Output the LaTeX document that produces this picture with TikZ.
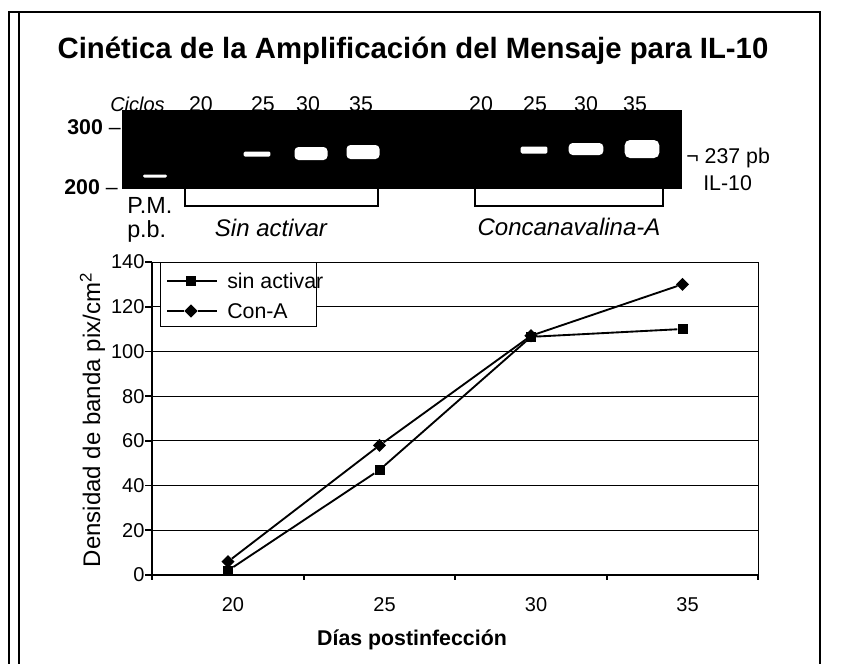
\documentclass[tikz,border=0pt]{standalone}
\usepackage{fontspec}
\setmainfont{Liberation Sans}
\usetikzlibrary{shapes.geometric}

\begin{document}
\begin{tikzpicture}[x=0.75pt,y=-0.75pt]
\tikzset{
	frame line/.style = {line width = 2pt},
	gel band/.style = {fill = white, rounded corners = 1pt, inner sep = 0},
	lane label/.style = {font = \fontsize{16}{18}\selectfont, anchor = base, inner sep = 0},
	side label/.style = {font = \fontsize{16}{18}\selectfont, inner sep = 0},
	group label/.style = {font = \fontsize{18}{20}\selectfont\itshape, anchor = base, inner sep = 0},
	bracket/.style = {line width = 1.6pt},
	grid line/.style = {line width = 0.6pt},
	axis line/.style = {line width = 1.3pt},
	tick label/.style = {font = \fontsize{15}{17}\selectfont, inner sep = 0},
	legend text/.style = {font = \fontsize{16}{18}\selectfont, anchor = west, inner sep = 0},
	series/.style = {line width = 1.4pt},
	square mark/.style = {rectangle, fill = black, minimum size = 7.5pt, inner sep = 0},
	diamond mark/.style = {diamond, fill = black, minimum size = 10pt, inner sep = 0}
}
\useasboundingbox (0,0) rectangle (846,664);
% frame
\draw[frame line] (8,12) -- (821,12);
\draw[frame line] (9,12) -- (9,664);
\draw[line width = 1.3pt] (19,12) -- (19,664);
\draw[frame line] (820,12) -- (820,664);
\node[anchor = base] (title) at (413,58) {\fontsize{22}{24}\selectfont\bfseries Cinética de la Amplificación del Mensaje para IL-10};

% gel
\node[fill = black, minimum width = 420pt, minimum height = 59.25pt, inner sep = 0] (gel) at (402,149.5) {};
\node[gel band, minimum width = 18pt, minimum height = 2.25pt] (pm) at (155,176) {};
\node[gel band, minimum width = 20pt, minimum height = 3.75pt] (sa25) at (257,154) {};
\node[gel band, rounded corners = 3pt, minimum width = 24.75pt, minimum height = 9.75pt] (sa30) at (311,153.5) {};
\node[gel band, rounded corners = 3pt, minimum width = 24.75pt, minimum height = 10.5pt] (sa35) at (363,152) {};
\node[gel band, minimum width = 20pt, minimum height = 5.25pt] (ca25) at (534,150) {};
\node[gel band, rounded corners = 3pt, minimum width = 26pt, minimum height = 9pt] (ca30) at (586,149) {};
\node[gel band, rounded corners = 4pt, minimum width = 26pt, minimum height = 13.5pt] (ca35) at (642,149) {};

\node[lane label, anchor = base west, font = \fontsize{15}{17}\selectfont\itshape] (ciclos) at (110,111) {Ciclos};
\foreach \c/\x in {20/201, 25/263, 30/308, 35/361}
	\node[lane label] (sa lane \c) at (\x,111) {\c};
\foreach \c/\x in {20/481, 25/535, 30/586, 35/635}
	\node[lane label] (ca lane \c) at (\x,111) {\c};

\node[side label, anchor = east, font = \fontsize{16}{18}\selectfont] (m300) at (121,127) {\textbf{300} –};
\node[side label, anchor = east, font = \fontsize{16}{18}\selectfont] (m200) at (118,187) {\textbf{200} –};
\node[side label, anchor = base west, font = \fontsize{17.5}{19}\selectfont] (pmtext) at (127,213) {P.M.};
\node[side label, anchor = base west, font = \fontsize{17.5}{19}\selectfont] (pbtext) at (127,237) {p.b.};
\node[side label, anchor = base west] (bp) at (686,163) {¬ 237 pb};
\node[side label, anchor = base west] (il) at (703,190) {IL-10};

\draw[bracket] (185,189) |- (378,206) -- (378,189);
\draw[bracket] (475,189) |- (663,206) -- (663,189);
\node[group label] (sa) at (271,236) {Sin activar};
\node[group label] (ca) at (569,235) {Concanavalina-A};

% chart
\begin{scope}[shift = {(-378,575)}, xscale = 30.3, yscale = -2.236]
\foreach \v in {20,40,...,120}
	\draw[grid line] (17.5,\v) -- (37.5,\v);
\draw[grid line] (17.5,140) -- (37.5,140) -- (37.5,0);
\draw[axis line] (17.5,140) -- (17.5,0) -- (37.5,0);
\foreach \v in {0,20,...,140}{
	\draw[axis line] (17.5,\v) -- ++(-0.23,0);
	\node[tick label, anchor = east] (y\v) at (17.25,\v) {\v};
}
\foreach \x in {17.5,22.5,27.5,32.5,37.5}
	\draw[axis line] (\x,0) -- ++(0,-2.2);
\foreach \d in {20,25,30,35}
	\node[tick label, anchor = base, xshift = 3.75pt] (x\d) at (\d,-16.5) {\d};

\foreach \d/\v [count = \i] in {20/2, 25/47, 30/106.5, 35/110}
	\node[square mark] (s\i) at (\d,\v) {};
\foreach \d/\v [count = \i] in {20/6, 25/58, 30/107, 35/130}
	\node[diamond mark] (c\i) at (\d,\v) {};
\draw[series] (s1) -- (s2) -- (s3) -- (s4);
\draw[series] (c1) -- (c2) -- (c3) -- (c4);
\end{scope}

% legend
\node[draw, fill = white, line width = 0.6pt, minimum width = 117pt, minimum height = 48pt, inner sep = 0] (legend) at (238,294) {};
\node[square mark] (leg s) at (191,281) {};
\draw[series] (leg s) -- ++(-24,0);
\draw[series] (leg s) -- ++(26,0);
\node[diamond mark] (leg c) at (191,311) {};
\draw[series] (leg c) -- ++(-24,0);
\draw[series] (leg c) -- ++(26,0);
\node[legend text] (leg s text) at (227,281) {sin activar};
\node[legend text] (leg c text) at (227,311) {Con-A};

\node[rotate = 90, anchor = base, font = \fontsize{18}{20}\selectfont] (ytitle) at (100,420) {Densidad de banda pix/cm\textsuperscript{2}};
\node[anchor = base, font = \fontsize{16}{18}\selectfont\bfseries] (xtitle) at (412,645) {Días postinfección};
\end{tikzpicture}
\end{document}
